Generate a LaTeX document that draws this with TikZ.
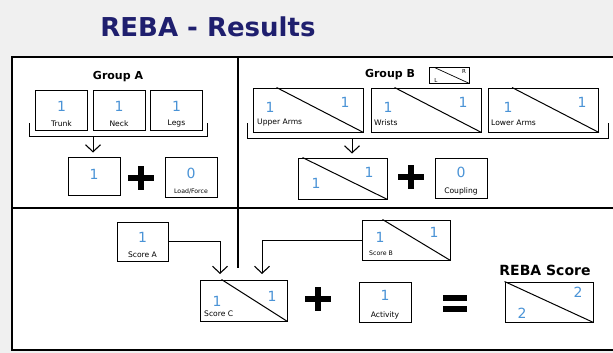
\documentclass[tikz,border=0pt]{standalone}
\usepackage{fontspec}
\setmainfont{DejaVu Sans}
\usepackage{tikz}
\usetikzlibrary{
  arrows.meta,
  positioning
}
\definecolor{titleblue}{HTML}{1F1F6E}
\definecolor{numblue}{HTML}{4A93D6}
\definecolor{bggray}{HTML}{F0F0F0}

\begin{document}
\begin{tikzpicture}[x=1pt,y=-1pt,
  box/.style={draw,line width=1pt,inner sep=0pt,fill=white},
  smallbox/.style={box,minimum width=52pt,minimum height=40pt},
  splitbox/.style={box,minimum width=88pt,minimum height=41pt},
  armbox/.style={box,minimum width=110pt,minimum height=44pt},
  num/.style={text=numblue,font=\fontsize{14}{14}\selectfont,inner sep=0pt},
  lbl/.style={font=\fontsize{7.6}{8}\selectfont,inner sep=0pt},
  tinylbl/.style={font=\fontsize{6.2}{7}\selectfont,inner sep=0pt},
  head/.style={font=\bfseries\fontsize{11}{12}\selectfont,inner sep=0pt},
  frame/.style={line width=2.4pt},
  link/.style={line width=1pt},
  arrow/.style={link,-{Straight Barb[length=7pt,width=15pt,line width=1.1pt]}},
  % thick plus / equals drawn inside empty nodes
  plussign/.style={minimum width=26pt,minimum height=24pt,inner sep=0pt,
    path picture={\draw[line width=6pt]
      (path picture bounding box.west)--(path picture bounding box.east)
      (path picture bounding box.north)--(path picture bounding box.south);}},
  eqsign/.style={minimum width=24pt,minimum height=17pt,inner sep=0pt,
    path picture={
      \fill (path picture bounding box.north west) rectangle ([yshift=-6pt]path picture bounding box.north east);
      \fill (path picture bounding box.south west) rectangle ([yshift=6pt]path picture bounding box.south east);}}
]
\clip (0,0) rectangle (613,353);
\useasboundingbox (0,0) rectangle (613,353);

% ---- background, title and frame ----
\fill[bggray] (0,0) rectangle (613,353);
\node[text=titleblue,font=\bfseries\fontsize{26}{28}\selectfont] (title) at (208,27) {REBA - Results};
\fill[white] (12,57) rectangle (625,350);
\draw[frame] (12,57) rectangle (625,350);
\draw[frame] (12,208) -- (625,208);
\draw[frame] (238,57) -- (238,268);

% ---- Group A ----
\node[head] (grpA) at (118,77) {Group A};
\node[smallbox] (trunk) at (61.5,110) {};
\node[smallbox] (neck)  at (119,110)  {};
\node[smallbox] (legs)  at (176.5,110) {};
\node[num] (trunkN) at (61.5,106) {1};  \node[lbl] (trunkL) at (61.5,124) {Trunk};
\node[num] (neckN)  at (119,106)  {1};  \node[lbl] (neckL)  at (119,124)  {Neck};
\node[num] (legsN)  at (176.5,106) {1}; \node[lbl] (legsL)  at (176.5,124) {Legs};
\draw[link] (29,123) -- (29,136) -- (207,136) -- (207,123);
\coordinate (brA) at (93,136);
\node[smallbox,minimum height=38pt] (sumA) at (94,176) {};
\node[num] (sumAN) at (94,174) {1};
\draw[arrow,shorten >=4pt] (brA) -- (brA |- sumA.north);
\node[plussign] (plusA) at (141,178) {};
\node[smallbox] (load) at (191,177) {};
\node[num] (loadN) at (191,173) {0};
\node[tinylbl] (loadL) at (191,191) {Load/Force};

% ---- Group B ----
\node[head] (grpB) at (390,75) {Group B};
\node[box,minimum width=40pt,minimum height=15pt] (legend) at (449,75.5) {};
\draw[link,line width=0.7pt] ([xshift=6pt]legend.north west) -- (legend.south east);
\node[tinylbl,font=\fontsize{5.5}{6}\selectfont] (legL) at (436,80) {L};
\node[tinylbl,font=\fontsize{5.5}{6}\selectfont] (legR) at (464,71) {R};

\node[armbox] (upper)  at (308,110)   {};
\node[armbox] (wrists) at (426,110)   {};
\node[armbox] (lower)  at (543.5,110) {};
\draw[link] ([xshift=24pt]upper.north west)  -- (upper.south east);
\draw[link] ([xshift=24pt]wrists.north west) -- (wrists.south east);
\draw[link] ([xshift=24pt]lower.north west)  -- (lower.south east);
\node[num] (upperN1) at (270,107) {1};  \node[num] (upperN2) at (345,102) {1};
\node[num] (wristsN1) at (388,107) {1}; \node[num] (wristsN2) at (463,102) {1};
\node[num] (lowerN1) at (508,107) {1};  \node[num] (lowerN2) at (582,102) {1};
\node[lbl,anchor=west] (upperL)  at (257,123) {Upper Arms};
\node[lbl,anchor=west] (wristsL) at (374,123) {Wrists};
\node[lbl,anchor=west] (lowerL)  at (491,123) {Lower Arms};
\draw[link] (247,123) -- (247,138) -- (608,138) -- (608,123);
\coordinate (brB) at (352,138);
\node[splitbox,minimum width=89pt] (sumB) at (342.5,178.5) {};
\draw[link] ([xshift=5pt]sumB.north west) -- (sumB.south east);
\draw[arrow,shorten >=4pt] (brB) -- (brB |- sumB.north);
\node[num] (sumBN1) at (316,183) {1};
\node[num] (sumBN2) at (369,172) {1};
\node[plussign] (plusB) at (411,177) {};
\node[smallbox] (coupl) at (461,178) {};
\node[num] (couplN) at (461,172) {0};
\node[lbl] (couplL) at (461,191) {Coupling};

% ---- Scores ----
\node[smallbox,minimum width=51pt,minimum height=39pt] (scoreA) at (142.5,241.5) {};
\node[num] (scoreAN) at (142.5,237) {1};
\node[lbl] (scoreAL) at (142.5,255) {Score A};

\node[splitbox,minimum height=40pt] (scoreB) at (406,240) {};
\draw[link] ([xshift=21pt]scoreB.north west) -- (scoreB.south east);
\node[num] (scoreBN1) at (380,237) {1};
\node[num] (scoreBN2) at (434,232) {1};
\node[tinylbl,anchor=west] (scoreBL) at (369,253) {Score B};

\node[splitbox,minimum width=87pt] (scoreC) at (243.5,300.5) {};
\draw[link] ([xshift=22pt]scoreC.north west) -- (scoreC.south east);
\node[num] (scoreCN1) at (217,301) {1};
\node[num] (scoreCN2) at (272,296) {1};
\node[lbl,anchor=west] (scoreCL) at (204,314) {Score C};

\coordinate (inA) at (220,274);
\coordinate (inB) at (262,274);
\draw[arrow] (scoreA.east) -| (inA);
\draw[arrow] (scoreB.west) -| (inB);

\node[plussign] (plusC) at (318,299) {};
\node[smallbox] (activ) at (385,302) {};
\node[num] (activN) at (385,295) {1};
\node[lbl] (activL) at (385,315) {Activity};
\node[eqsign] (eq) at (455,303) {};

% ---- final score ----
\node[font=\bfseries\fontsize{14}{16}\selectfont,inner sep=0pt] (rebaT) at (545,270) {REBA Score};
\node[splitbox,minimum height=40pt] (reba) at (549,302) {};
\draw[link] (reba.north west) -- (reba.south east);
\node[num] (rebaN1) at (522,313) {2};
\node[num] (rebaN2) at (578,292) {2};
\end{tikzpicture}
\end{document}
